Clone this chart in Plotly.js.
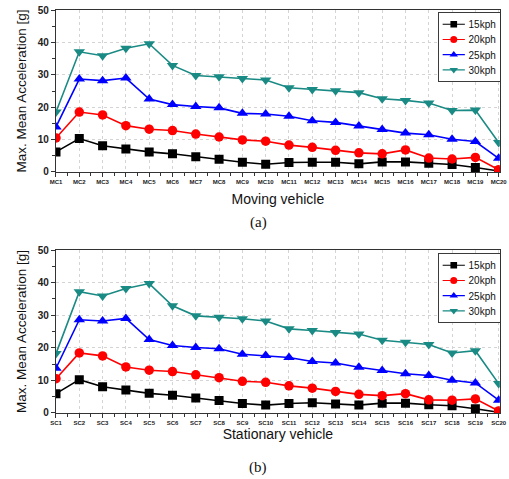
<!DOCTYPE html>
<html><head><meta charset="utf-8">
<script src="https://cdn.plot.ly/plotly-3.0.1.min.js"></script>
<style>html,body{margin:0;padding:0;background:#fff}</style>
</head><body>
<div id="chart" style="width:509px;height:479px"></div>
<script>
const mcLabels = ["MC1","MC2","MC3","MC4","MC5","MC6","MC7","MC8","MC9","MC10","MC11","MC12","MC13","MC14","MC15","MC16","MC17","MC18","MC19","MC20"];
const scLabels = ["SC1","SC2","SC3","SC4","SC5","SC6","SC7","SC8","SC9","SC10","SC11","SC12","SC13","SC14","SC15","SC16","SC17","SC18","SC19","SC20"];
const seriesNames = ["15kph","20kph","25kph","30kph"];

const moving15 = [6.2,10.3,8.1,7.1,6.2,5.6,4.7,3.9,3.0,2.4,2.9,3.0,3.0,2.5,3.1,3.1,2.7,2.3,1.4,0.3];
const moving20 = [10.5,18.5,17.6,14.3,13.2,12.8,11.7,10.8,9.9,9.5,8.3,7.6,6.7,5.9,5.6,6.8,4.3,4.0,4.5,0.7];
const moving25 = [13.9,28.7,28.2,29.0,22.5,20.8,20.2,19.8,18.1,17.9,17.2,15.8,15.3,14.2,13.1,12.0,11.5,10.1,9.4,4.2];
const moving30 = [18.5,37.1,35.9,38.2,39.6,32.9,29.8,29.4,28.9,28.4,26.0,25.5,25.1,24.5,22.6,22.1,21.3,19.0,19.1,9.1];

const stat15 = [5.9,10.2,8.0,7.0,6.0,5.4,4.6,3.8,2.9,2.4,2.9,3.1,2.7,2.4,3.0,3.0,2.5,2.2,1.3,0.2];
const stat20 = [10.5,18.4,17.5,14.1,13.1,12.7,11.7,10.8,9.7,9.4,8.3,7.6,6.6,5.7,5.3,5.9,4.0,3.9,4.3,0.6];
const stat25 = [13.7,28.6,28.2,29.0,22.5,20.7,20.1,19.7,18.0,17.6,17.0,15.8,15.3,14.0,13.0,12.0,11.5,10.0,9.2,3.9];
const stat30 = [18.2,37.2,35.9,38.2,39.7,32.9,29.8,29.4,28.9,28.2,25.8,25.3,24.7,24.2,22.3,21.7,21.0,18.4,19.1,9.0];

const colors = ["#000000","#ff0000","#0000ff","#1a8a84"];
const symbols = ["square","circle","triangle-up","triangle-down"];
const sizes = [9, 9.5, 10, 10];

const idx = mcLabels.map((_, i) => i);
const traces = [];
[moving15, moving20, moving25, moving30].forEach((ys, k) => {
  traces.push({x: idx, y: ys, name: seriesNames[k], type: "scatter", mode: "lines+markers",
    xaxis: "x", yaxis: "y", legend: "legend",
    line: {color: colors[k], width: 1.6},
    marker: {color: colors[k], symbol: symbols[k], size: sizes[k]}});
});
[stat15, stat20, stat25, stat30].forEach((ys, k) => {
  traces.push({x: idx, y: ys, name: seriesNames[k], type: "scatter", mode: "lines+markers",
    xaxis: "x2", yaxis: "y2", legend: "legend2",
    line: {color: colors[k], width: 1.6},
    marker: {color: colors[k], symbol: symbols[k], size: sizes[k]}});
});

function xAxis(labels, title, anchor, standoff) {
  return {
    anchor: anchor, domain: [0.110, 0.982], range: [0, 19.05],
    tickvals: idx, ticktext: labels, tickangle: 0,
    tickfont: {family: "Liberation Sans, Arial", size: 6, color: "#222", weight: "bold"},
    ticks: "outside", ticklen: 4, tickwidth: 1, tickcolor: "#333",
    minor: {dtick: 0.5, tick0: 0, ticks: "outside", ticklen: 2.5, tickcolor: "#333", showgrid: false},
    showline: true, linecolor: "#333", linewidth: 1.2, mirror: true,
    showgrid: true, gridcolor: "#d4d4d4", griddash: "dot", gridwidth: 1,
    zeroline: false,
    title: {text: title, font: {family: "Liberation Sans, Arial", size: 14, color: "#111"}, standoff: standoff}
  };
}
function yAxis(domain, anchor) {
  return {
    anchor: anchor, domain: domain, range: [0, 50], dtick: 10, tick0: 0,
    tickfont: {family: "Liberation Sans, Arial", size: 10, color: "#222", weight: "bold"},
    ticks: "outside", ticklen: 4, tickwidth: 1, tickcolor: "#333",
    minor: {dtick: 5, ticks: "outside", ticklen: 2.5, tickcolor: "#333", showgrid: false},
    showline: true, linecolor: "#333", linewidth: 1.2, mirror: true,
    showgrid: true, gridcolor: "#d4d4d4", griddash: "dot", gridwidth: 1,
    zeroline: false,
    title: {text: "Max. Mean Acceleration [g]", font: {family: "Liberation Sans, Arial", size: 13.5, color: "#111"}, standoff: 8}
  };
}

const legendStyle = {
  xanchor: "right", yanchor: "top", bgcolor: "#ffffff", bordercolor: "#333", borderwidth: 1.3,
  font: {family: "Liberation Sans, Arial", size: 13.5, color: "#111"}, tracegroupgap: 0, itemwidth: 30
};

const layout = {
  width: 509, height: 479,
  margin: {l: 0, r: 0, t: 0, b: 0},
  paper_bgcolor: "#fff", plot_bgcolor: "#fff",
  showlegend: true,
  xaxis: xAxis(mcLabels, "Moving vehicle", "y", 9),
  yaxis: yAxis([0.641, 0.979], "x"),
  xaxis2: xAxis(scLabels, "Stationary vehicle", "y2", 3),
  yaxis2: yAxis([0.138, 0.478], "x2"),
  legend: Object.assign({x: 0.98, y: 0.975}, legendStyle),
  legend2: Object.assign({x: 0.98, y: 0.472}, legendStyle),
  annotations: [
    {text: "(a)", xref: "paper", yref: "paper", x: 0.507, y: 0.536, xanchor: "center", yanchor: "middle",
     showarrow: false, font: {family: "Liberation Serif, DejaVu Serif", size: 15, color: "#111"}},
    {text: "(b)", xref: "paper", yref: "paper", x: 0.507, y: 0.023, xanchor: "center", yanchor: "middle",
     showarrow: false, font: {family: "Liberation Serif, DejaVu Serif", size: 15, color: "#111"}}
  ]
};

// compact legend placement (top-left corner in px) and scale, as in the reference
const legendBoxes = {legend: [438, 12], legend2: [438, 253]};
const legendScale = 0.74;

Plotly.newPlot("chart", traces, layout, {displayModeBar: false, staticPlot: true}).then(gd => {
  Object.keys(legendBoxes).forEach(id => {
    const g = gd.querySelector("g.infolayer > g." + id);
    if (!g) return;
    const p = legendBoxes[id];
    g.setAttribute("transform", "translate(" + p[0] + "," + p[1] + ") scale(" + legendScale + ")");
  });
});
</script>
</body></html>
